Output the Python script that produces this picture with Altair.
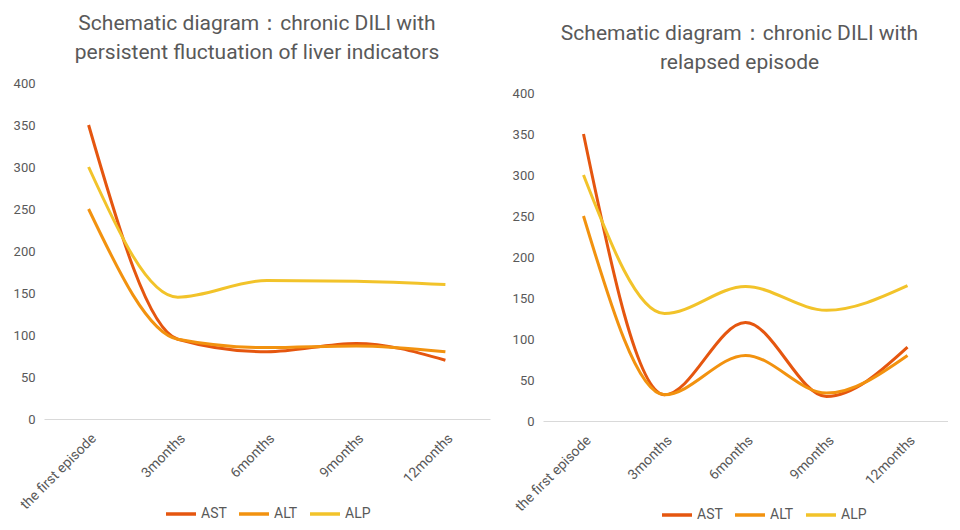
import altair as alt
import pandas as pd

categories = ["the first episode", "3months", "6months", "9months", "12months"]
series_names = ["AST", "ALT", "ALP"]
series_colors = ["#E5560F", "#F2920F", "#F2C32A"]

left_title = ["Schematic diagram：chronic DILI with", "persistent fluctuation of liver indicators"]
left_ast = [350, 95, 80, 90, 70]
left_alt = [250, 95, 85, 87, 80]
left_alp = [300, 145, 165, 164, 160]

right_title = ["Schematic diagram：chronic DILI with", "relapsed episode"]
right_ast = [350, 32, 120, 30, 90]
right_alt = [250, 32, 80, 34, 80]
right_alp = [300, 131, 164, 135, 165]

y_ticks = [0, 50, 100, 150, 200, 250, 300, 350, 400]


def to_frame(ast, alt_, alp):
    rows = []
    for name, vals in zip(series_names, [ast, alt_, alp]):
        for c, v in zip(categories, vals):
            rows.append({"cat": c, "series": name, "value": v})
    return pd.DataFrame(rows)


FONT = "Roboto"
GRAY = "#595959"


def panel(df, title, width, height, ymax, title_dx, title_offset, lx, ly):
    return (
        alt.Chart(df, title=alt.TitleParams(
            title, fontSize=21, font=FONT, fontWeight="normal", color=GRAY,
            anchor="middle", offset=title_offset, lineHeight=29, dx=title_dx))
        .mark_line(interpolate="monotone", strokeWidth=3)
        .encode(
            x=alt.X("cat:N", sort=categories, title=None,
                    scale=alt.Scale(padding=0.5),
                    axis=alt.Axis(labelAngle=-45, ticks=False, domainColor="#d9d9d9",
                                  domainWidth=1, labelFontSize=14, labelColor=GRAY,
                                  labelFont=FONT, labelPadding=12)),
            y=alt.Y("value:Q", title=None,
                    scale=alt.Scale(domain=[0, ymax], nice=False),
                    axis=alt.Axis(values=y_ticks, grid=False, domain=False, ticks=False,
                                  labelFontSize=13, labelColor=GRAY, labelFont=FONT,
                                  labelPadding=9)),
            color=alt.Color("series:N", sort=series_names, title=None,
                            scale=alt.Scale(domain=series_names, range=series_colors),
                            legend=alt.Legend(orient="none", legendX=lx, legendY=ly,
                                              direction="horizontal",
                                              symbolType="stroke", symbolStrokeWidth=3.5,
                                              symbolSize=900, labelFontSize=14,
                                              labelColor=GRAY, labelFont=FONT,
                                              columnPadding=5, labelOffset=3)),
        )
        .properties(width=width, height=height)
    )


left = panel(to_frame(left_ast, left_alt, left_alp), left_title, 446, 336, 400,
             -10, 14, 120, 414)
right = panel(to_frame(right_ast, right_alt, right_alp), right_title, 405, 338, 412.2,
              -6, 10, 117, 415)

chart = (
    alt.hconcat(left, right, spacing=53, bounds="flush")
    .resolve_scale(color="independent")
    .properties(padding={"left": 5, "top": 5, "right": 0, "bottom": 0})
    .configure_view(stroke=None)
)

chart.save("out.html", embed_options={"renderer": "svg", "actions": False})
